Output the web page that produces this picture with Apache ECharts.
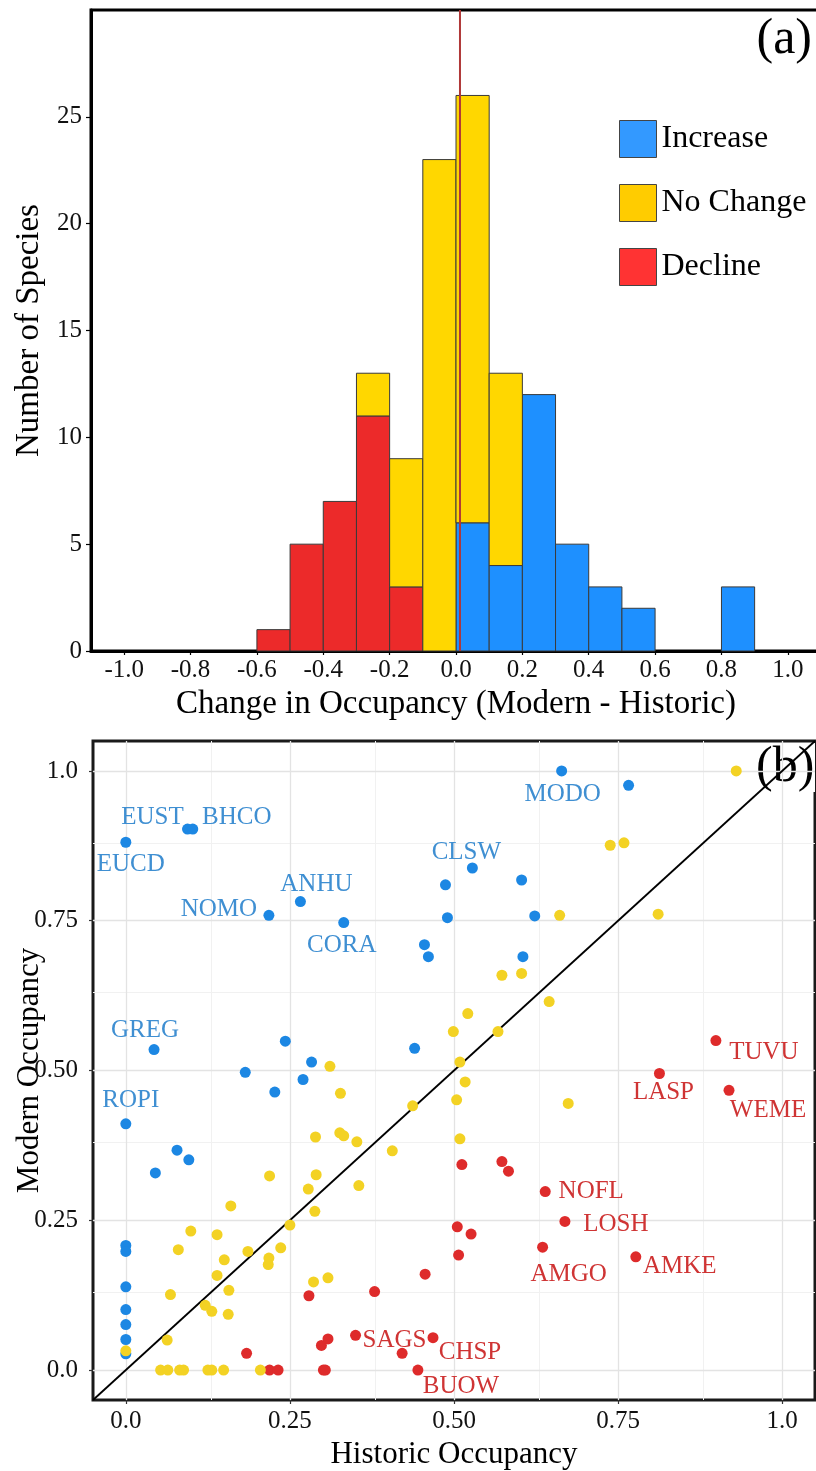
<!DOCTYPE html>
<html>
<head>
<meta charset="utf-8">
<script src="https://cdn.jsdelivr.net/npm/echarts@6/dist/echarts.min.js"></script>
<style>
  html, body { margin: 0; padding: 0; background: #ffffff; }
  #chart { width: 816px; height: 1471px; }
</style>
</head>
<body>
<div id="chart"></div>
<script>
// ---------------- DATA: panel (a) histogram ----------------
const binStarts = [-0.6, -0.5, -0.4, -0.3, -0.2, -0.1, 0.0, 0.1, 0.2, 0.3, 0.4, 0.5, 0.6, 0.7, 0.8];
const binWidth = 0.1;
const declineCounts  = [1, 5, 7, 11, 3, 0, 0, 0, 0, 0, 0, 0, 0, 0, 0];
const increaseCounts = [0, 0, 0, 0, 0, 0, 6, 4, 12, 5, 3, 2, 0, 0, 3];
const noChangeCounts = [0, 0, 0, 2, 6, 23, 20, 9, 0, 0, 0, 0, 0, 0, 0];
const referenceLineX = 0.012;
const histXTicks = [-1.0, -0.8, -0.6, -0.4, -0.2, 0.0, 0.2, 0.4, 0.6, 0.8, 1.0];
const histYTicks = [0, 5, 10, 15, 20, 25];
const groupNames = ['Increase', 'No Change', 'Decline'];

// ---------------- DATA: panel (b) scatter [historic, modern, code] ----------------
const increasePoints = [
  [0.000, 0.881, 'EUCD'], [0.094, 0.903, 'EUST'], [0.102, 0.903, 'BHCO'],
  [0.218, 0.759, 'NOMO'], [0.266, 0.782, 'ANHU'], [0.332, 0.747, 'CORA'],
  [0.455, 0.710, ''], [0.461, 0.690, ''], [0.487, 0.810, ''], [0.490, 0.755, ''],
  [0.528, 0.838, 'CLSW'], [0.603, 0.818, ''], [0.623, 0.758, ''], [0.605, 0.690, ''],
  [0.664, 1.000, 'MODO'], [0.766, 0.976, ''],
  [0.043, 0.535, 'GREG'], [0.243, 0.549, ''], [0.440, 0.537, ''], [0.283, 0.514, ''],
  [0.182, 0.497, ''], [0.270, 0.485, ''], [0.227, 0.464, ''],
  [0.000, 0.411, 'ROPI'], [0.078, 0.367, ''], [0.096, 0.351, ''], [0.045, 0.329, ''],
  [0.000, 0.208, ''], [0.000, 0.198, ''], [0.000, 0.139, ''], [0.000, 0.101, ''],
  [0.000, 0.076, ''], [0.000, 0.051, ''], [0.000, 0.027, '']
];
const noChangePoints = [
  [0.930, 1.000], [0.738, 0.876], [0.759, 0.880], [0.661, 0.759], [0.811, 0.761],
  [0.573, 0.659], [0.603, 0.662], [0.645, 0.615], [0.521, 0.595], [0.499, 0.565],
  [0.567, 0.565], [0.509, 0.514], [0.517, 0.481], [0.504, 0.451], [0.674, 0.445],
  [0.509, 0.386], [0.311, 0.507], [0.327, 0.462], [0.437, 0.441], [0.289, 0.389],
  [0.326, 0.396], [0.332, 0.391], [0.352, 0.381], [0.406, 0.366], [0.219, 0.324],
  [0.290, 0.326], [0.278, 0.302], [0.355, 0.308], [0.160, 0.274], [0.288, 0.265],
  [0.250, 0.242], [0.099, 0.232], [0.139, 0.226], [0.080, 0.201], [0.186, 0.198],
  [0.236, 0.204], [0.218, 0.187], [0.217, 0.176], [0.150, 0.184], [0.139, 0.158],
  [0.157, 0.133], [0.068, 0.126], [0.286, 0.147], [0.308, 0.154], [0.121, 0.108],
  [0.131, 0.098], [0.156, 0.093], [0.063, 0.050], [0.000, 0.032],
  [0.053, 0.000], [0.064, 0.000], [0.082, 0.000], [0.088, 0.000], [0.125, 0.000],
  [0.131, 0.000], [0.149, 0.000], [0.205, 0.000]
];
const declinePoints = [
  [0.899, 0.550, 'TUVU'], [0.813, 0.495, 'LASP'], [0.919, 0.467, 'WEME'],
  [0.512, 0.343, ''], [0.573, 0.348, ''], [0.583, 0.332, ''],
  [0.639, 0.298, 'NOFL'], [0.669, 0.248, 'LOSH'], [0.505, 0.239, ''], [0.526, 0.227, ''],
  [0.635, 0.205, 'AMGO'], [0.507, 0.192, ''], [0.777, 0.189, 'AMKE'],
  [0.184, 0.028, ''], [0.279, 0.124, ''], [0.379, 0.131, ''], [0.456, 0.160, ''],
  [0.298, 0.041, ''], [0.308, 0.052, ''], [0.350, 0.058, 'SAGS'], [0.468, 0.054, 'CHSP'],
  [0.421, 0.028, ''], [0.219, 0.000, ''], [0.232, 0.000, ''], [0.301, 0.000, ''],
  [0.304, 0.000, ''], [0.445, 0.000, 'BUOW']
];
const scatterTicks = [0, 0.25, 0.5, 0.75, 1.0];
const scatterTickLabels = ['0.0', '0.25', '0.50', '0.75', '1.0'];
const scatterMinorTicks = [0.125, 0.375, 0.625, 0.875];
const scatterRange = [-0.05, 1.05];

// ---------------- STYLE ----------------
const FONT = 'Liberation Serif, Times New Roman, serif';
const barColors = { 'Increase': '#1e90ff', 'No Change': '#ffd700', 'Decline': '#ec2a2a' };
const legendColors = { 'Increase': '#3399ff', 'No Change': '#ffcc00', 'Decline': '#ff3333' };
const dotColors = { inc: '#1c87e3', none: '#f3d224', dec: '#de2b2b' };
const labelColors = { inc: '#3f8fd2', dec: '#cf3434' };
// pixel offsets of species code labels relative to their point
const labelOffsets = {
  EUCD: [5, 22], EUST: [-35, -12], BHCO: [44, -12], NOMO: [-50, -6], ANHU: [16, -17],
  CORA: [-2, 23], CLSW: [-6, -16], MODO: [1, 23], GREG: [-9, -19], ROPI: [5, -23],
  TUVU: [48, 12], LASP: [4, 19], WEME: [39, 20], NOFL: [46, 0], LOSH: [51, 3],
  AMGO: [26, 27], AMKE: [44, 10], SAGS: [39, 5], CHSP: [37, 15], BUOW: [43, 16]
};

// ---------------- BUILD ----------------
function stackedBins(counts, bases) {
  const out = [];
  counts.forEach((c, i) => {
    if (c > 0) out.push([binStarts[i], binStarts[i] + binWidth, bases[i], bases[i] + c]);
  });
  return out;
}
const zeroBase = binStarts.map(() => 0);
const nochangeBase = binStarts.map((_, i) => declineCounts[i] + increaseCounts[i]);

function renderBin(params, api) {
  const p0 = api.coord([api.value(0), api.value(2)]);
  const p1 = api.coord([api.value(1), api.value(3)]);
  return {
    type: 'rect',
    shape: { x: p0[0], y: p1[1], width: p1[0] - p0[0], height: p0[1] - p1[1] },
    style: { fill: api.visual('color'), stroke: '#3a3a3a', lineWidth: 1 }
  };
}

function histSeries(name, counts, bases) {
  return {
    type: 'custom', name: name, xAxisIndex: 0, yAxisIndex: 0,
    renderItem: renderBin,
    itemStyle: { color: barColors[name] },
    encode: { x: [0, 1], y: [2, 3] },
    data: stackedBins(counts, bases),
    z: 2, silent: true
  };
}

function pointItems(points, labelColor) {
  return points.map(p => {
    const item = { value: [p[0], p[1]] };
    if (p[2]) {
      item.name = p[2];
      item.label = {
        show: true, formatter: p[2], position: 'inside',
        offset: labelOffsets[p[2]], color: labelColor,
        fontFamily: FONT, fontSize: 25
      };
    }
    return item;
  });
}

const gridLineData = [];
scatterMinorTicks.forEach(v => {
  gridLineData.push({ xAxis: v, lineStyle: { color: '#f1f1f1', width: 1, type: 'solid' } });
  gridLineData.push({ yAxis: v, lineStyle: { color: '#f1f1f1', width: 1, type: 'solid' } });
});
scatterTicks.forEach(v => {
  gridLineData.push({ xAxis: v, lineStyle: { color: '#e3e3e3', width: 1.3, type: 'solid' } });
  gridLineData.push({ yAxis: v, lineStyle: { color: '#e3e3e3', width: 1.3, type: 'solid' } });
});

const tickLabelStyle = { fontFamily: FONT, fontSize: 25, color: '#111' };
const nameStyleA = { fontFamily: FONT, fontSize: 33, color: '#000' };
const nameStyleB = { fontFamily: FONT, fontSize: 31, color: '#000' };

const option = {
  backgroundColor: '#ffffff',
  animation: false,
  grid: [
    { left: 91, top: 10, width: 730, height: 641, show: true, borderColor: '#000', borderWidth: 3,
      backgroundColor: 'transparent', outerBoundsMode: 'none', containLabel: false },
    { left: 93, top: 741, width: 722, height: 659, show: true, borderColor: '#1a1a1a', borderWidth: 3,
      backgroundColor: 'transparent', outerBoundsMode: 'none', containLabel: false }
  ],
  xAxis: [
    {
      gridIndex: 0, type: 'value', min: -1.1, max: 1.1,
      name: 'Change in Occupancy (Modern - Historic)', nameLocation: 'middle', nameGap: 37,
      nameMoveOverlap: false, nameTextStyle: nameStyleA,
      axisLine: { show: true, onZero: false, lineStyle: { color: '#000', width: 3 } },
      axisTick: { show: true, customValues: histXTicks, length: 4, lineStyle: { color: '#000', width: 1.2 } },
      axisLabel: { customValues: histXTicks, margin: 7, formatter: v => v.toFixed(1), ...tickLabelStyle },
      splitLine: { show: false }
    },
    {
      gridIndex: 1, type: 'value', min: scatterRange[0], max: scatterRange[1],
      name: 'Historic Occupancy', nameLocation: 'middle', nameGap: 39,
      nameMoveOverlap: false, nameTextStyle: nameStyleB,
      axisLine: { show: false, onZero: false },
      axisTick: { show: true, customValues: scatterTicks, length: 4, lineStyle: { color: '#333', width: 1.2 } },
      axisLabel: { customValues: scatterTicks, margin: 9,
        formatter: v => scatterTickLabels[scatterTicks.indexOf(v)] ?? String(v), ...tickLabelStyle },
      splitLine: { show: false }
    }
  ],
  yAxis: [
    {
      gridIndex: 0, type: 'value', min: 0, max: 30,
      name: 'Number of Species', nameLocation: 'middle', nameGap: 45,
      nameMoveOverlap: false, nameTextStyle: nameStyleA,
      axisLine: { show: true, onZero: false, lineStyle: { color: '#000', width: 3 } },
      axisTick: { show: true, customValues: histYTicks, length: 5, lineStyle: { color: '#000', width: 1.2 } },
      axisLabel: { customValues: histYTicks, margin: 9, ...tickLabelStyle },
      splitLine: { show: false }
    },
    {
      gridIndex: 1, type: 'value', min: scatterRange[0], max: scatterRange[1],
      name: 'Modern Occupancy', nameLocation: 'middle', nameGap: 48,
      nameMoveOverlap: false, nameTextStyle: nameStyleB,
      axisLine: { show: false, onZero: false },
      axisTick: { show: true, customValues: scatterTicks, length: 4, lineStyle: { color: '#333', width: 1.2 } },
      axisLabel: { customValues: scatterTicks, margin: 15,
        formatter: v => scatterTickLabels[scatterTicks.indexOf(v)] ?? String(v), ...tickLabelStyle },
      splitLine: { show: false }
    }
  ],
  legend: {
    orient: 'vertical', left: 619, top: 120, padding: 0,
    itemWidth: 37, itemHeight: 37, itemGap: 26,
    icon: 'rect',
    itemStyle: { borderColor: '#444', borderWidth: 1 },
    textStyle: { fontFamily: FONT, fontSize: 32, color: '#000', padding: [4, 0, 0, 0] },
    data: groupNames.map(n => ({ name: n, itemStyle: { color: legendColors[n] } })),
    selectedMode: false
  },
  graphic: [
    { type: 'text', right: 4, top: 15, z: 100,
      style: { text: '(a)', font: '50px ' + FONT, fill: '#000' } },
    { type: 'group', right: 1, top: 743, z: 100, children: [
      { type: 'rect', shape: { x: 0, y: 0, width: 61, height: 49 }, style: { fill: '#ffffff' } },
      { type: 'text', x: 2, y: 0, style: { text: '(b)', font: '50px ' + FONT, fill: '#000' } }
    ]}
  ],
  series: [
    histSeries('Decline', declineCounts, zeroBase),
    histSeries('Increase', increaseCounts, zeroBase),
    histSeries('No Change', noChangeCounts, nochangeBase),
    {
      type: 'line', name: 'ref', xAxisIndex: 0, yAxisIndex: 0,
      data: [[referenceLineX, 0], [referenceLineX, 30]],
      symbol: 'none', silent: true, z: 5,
      lineStyle: { color: '#b03838', width: 2 }
    },
    {
      type: 'line', name: 'identity', xAxisIndex: 1, yAxisIndex: 1,
      data: [[scatterRange[0], scatterRange[0]], [scatterRange[1], scatterRange[1]]],
      symbol: 'none', silent: true, z: 6,
      lineStyle: { color: '#000', width: 1.8 },
      markLine: {
        silent: true, symbol: ['none', 'none'], z: 1,
        label: { show: false }, emphasis: { disabled: true },
        data: gridLineData
      }
    },
    {
      type: 'scatter', name: 'inc-pts', xAxisIndex: 1, yAxisIndex: 1,
      symbolSize: 11, z: 10, silent: true,
      itemStyle: { color: dotColors.inc, opacity: 1 },
      data: pointItems(increasePoints, labelColors.inc)
    },
    {
      type: 'scatter', name: 'dec-pts', xAxisIndex: 1, yAxisIndex: 1,
      symbolSize: 11, z: 10, silent: true,
      itemStyle: { color: dotColors.dec, opacity: 1 },
      data: pointItems(declinePoints, labelColors.dec)
    },
    {
      type: 'scatter', name: 'none-pts', xAxisIndex: 1, yAxisIndex: 1,
      symbolSize: 11, z: 10, silent: true,
      itemStyle: { color: dotColors.none, opacity: 1 },
      data: noChangePoints.map(p => [p[0], p[1]])
    }
  ]
};

const chart = echarts.init(document.getElementById('chart'), null, { renderer: 'canvas', width: 816, height: 1471 });
chart.setOption(option);
</script>
</body>
</html>
